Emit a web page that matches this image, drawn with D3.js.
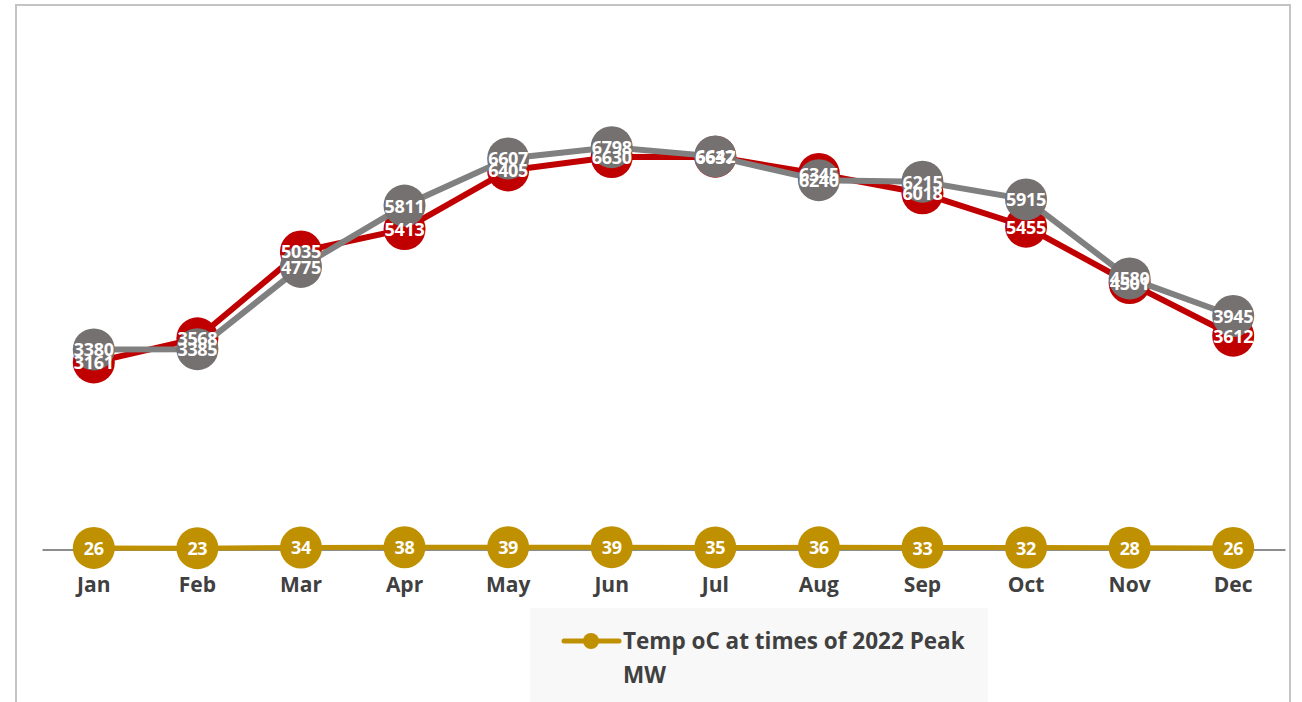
<!DOCTYPE html>
<html>
<head>
<meta charset="utf-8">
<script src="https://cdn.jsdelivr.net/npm/d3@7"></script>
<style>
  html, body { margin: 0; padding: 0; background: #fff; }
  svg { display: block; font-family: "Open Sans", "Liberation Sans", sans-serif; }
  .lbl { fill: #fff; font-weight: 700; font-size: 18px; text-anchor: middle; dominant-baseline: central; letter-spacing: -0.3px; }
  .tick-lbl { fill: #404040; font-weight: 700; font-size: 21px; text-anchor: middle; }
  .legend-text { fill: #404040; font-weight: 700; font-size: 22.5px; }
</style>
</head>
<body>
<svg id="chart" width="1302" height="702"></svg>
<script>
  const months = ['Jan', 'Feb', 'Mar', 'Apr', 'May', 'Jun', 'Jul', 'Aug', 'Sep', 'Oct', 'Nov', 'Dec'];
  const peakRed = [3161, 3568, 5035, 5413, 6405, 6630, 6637, 6345, 6018, 5455, 4501, 3612];
  const peakGray = [3380, 3385, 4775, 5811, 6607, 6798, 6642, 6240, 6215, 5915, 4580, 3945];
  const temps = [26, 23, 34, 38, 39, 39, 35, 36, 33, 32, 28, 26];
  const legendLines = ['Temp oC at times of 2022 Peak', 'MW'];

  const svg = d3.select('#chart');

  // outer frame, cut off at the bottom like the reference
  svg.append('path')
    .attr('d', 'M16,702 V5 H1290 V702')
    .attr('fill', 'none')
    .attr('stroke', '#c4c4c4')
    .attr('stroke-width', 2);

  const x = d3.scaleBand().domain(months).range([42, 1285]);
  const y = d3.scaleLinear().domain([0, 8000]).range([549.5, 76]);
  const cx = d => x(d) + x.bandwidth() / 2;

  // category axis
  const axis = svg.append('g').attr('transform', `translate(0,${y(0)})`)
    .call(d3.axisBottom(x).tickSize(0).tickSizeOuter(0).tickFormat(''));
  axis.select('.domain').attr('stroke', '#8c8c8c').attr('stroke-width', 2);

  svg.append('g').selectAll('text')
    .data(months)
    .join('text')
    .attr('class', 'tick-lbl')
    .attr('x', d => cx(d))
    .attr('y', 592)
    .text(d => d);

  const line = d3.line().x((d, i) => cx(months[i])).y(d => y(d));

  function drawSeries(values, lineColor, dotColor, width) {
    const g = svg.append('g');
    g.append('path')
      .datum(values)
      .attr('d', line)
      .attr('fill', 'none')
      .attr('stroke', lineColor)
      .attr('stroke-width', width)
      .attr('stroke-linejoin', 'round');
    g.selectAll('circle')
      .data(values)
      .join('circle')
      .attr('cx', (d, i) => cx(months[i]))
      .attr('cy', d => y(d))
      .attr('r', 21)
      .attr('fill', dotColor);
  }

  drawSeries(peakRed, '#c00000', '#c00000', 6);
  drawSeries(peakGray, '#808080', '#767171', 6);
  drawSeries(temps, '#bf9000', '#bf9000', 5);

  // data labels on top of everything
  const labels = svg.append('g');
  [peakRed, peakGray, temps].forEach(values => {
    labels.append('g').selectAll('text')
      .data(values)
      .join('text')
      .attr('class', 'lbl')
      .attr('x', (d, i) => cx(months[i]))
      .attr('y', d => y(d))
      .text(d => d);
  });

  // legend (only the visible part)
  const lg = svg.append('g');
  lg.append('rect')
    .attr('x', 530).attr('y', 608)
    .attr('width', 458).attr('height', 94)
    .attr('fill', '#f8f8f8');
  lg.append('line')
    .attr('x1', 564).attr('x2', 619)
    .attr('y1', 641).attr('y2', 641)
    .attr('stroke', '#bf9000')
    .attr('stroke-width', 5)
    .attr('stroke-linecap', 'round');
  lg.append('circle')
    .attr('cx', 591).attr('cy', 641).attr('r', 8)
    .attr('fill', '#bf9000');
  lg.selectAll('text.legend-text')
    .data(legendLines)
    .join('text')
    .attr('class', 'legend-text')
    .attr('x', 623)
    .attr('y', (d, i) => 649 + i * 34)
    .text(d => d);
</script>
</body>
</html>
